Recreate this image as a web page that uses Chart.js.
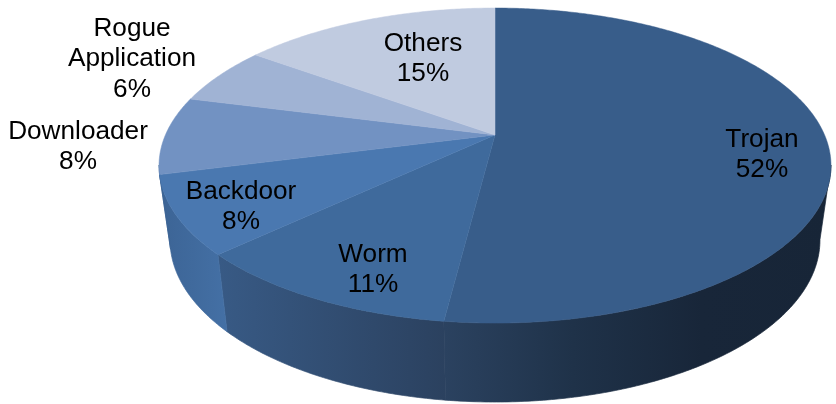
<!DOCTYPE html>
<html lang="en">
<head>
    <meta charset="UTF-8">
    <title>Malware share</title>
    <script src="https://cdnjs.cloudflare.com/ajax/libs/Chart.js/4.4.1/chart.umd.min.js"></script>
    <style>
        html, body { margin: 0; padding: 0; background: #fff; }
        canvas { display: block; }
    </style>
</head>
<body>
    <canvas id="pieChart" width="836" height="404"></canvas>

    <script>
        const categories = ['Trojan', 'Worm', 'Backdoor', 'Downloader', 'Rogue Application', 'Others'];
        const shares = [52, 11, 8, 8, 6, 15];
        const topColors = ['#385d8a', '#3f6a9c', '#4a78b0', '#7292c2', '#a0b3d4', '#c0cbe0'];

        // side wall gradient of each slice, left colour -> right colour
        const wallColors = [
            ['#2b4260', '#1f3249', '#182639', '#172537'],
            ['#385a85', '#2b415f'],
            ['#3c6495', '#4470a5'],
            ['#3c6495', '#3c6495'],
            ['#3c6495', '#3c6495'],
            ['#3c6495', '#3c6495']
        ];

        // label centre x and first line y (canvas px)
        const labelSpots = [[762, 139.5], [373, 254.5], [241, 191.5], [78, 131.5], [132, 28.5], [423, 43.5]];

        // the pie is a tilted disc, so the apex is not the middle of the ellipse
        const tilt = -0.194;
        const topFace = { x: 495, y: 135, a: 329.6, b: 151.6 };
        const bottomFace = { x: 495, y: 208.6, a: 318.8, b: 155.9 };
        const wallFrom = 101 * Math.PI / 180;
        const wallTo = 259 * Math.PI / 180;

        const project = (face, angle) => {
            const X = Math.sin(angle);
            const Y = -Math.cos(angle);
            const w = 1 + tilt * Y;
            return [face.x + face.a * X / w, face.y + face.b * Y / w];
        };

        const arcPoints = (face, from, to) => {
            const pts = [];
            const steps = Math.max(2, Math.ceil(Math.abs(to - from) / 0.01));
            for (let i = 0; i <= steps; i++) {
                pts.push(project(face, from + (to - from) * i / steps));
            }
            return pts;
        };

        const tracePoints = (ctx, pts, first) => {
            pts.forEach((p, i) => {
                if (i === 0 && first) ctx.moveTo(p[0], p[1]);
                else ctx.lineTo(p[0], p[1]);
            });
        };

        const drawWall = (ctx, from, to, stops) => {
            const start = Math.max(from, wallFrom);
            const end = Math.min(to, wallTo);
            if (end <= start) return;
            const upper = arcPoints(topFace, start, end);
            const lower = arcPoints(bottomFace, end, start);
            const xs = upper.concat(lower).map(p => p[0]);
            const grad = ctx.createLinearGradient(Math.min(...xs), 0, Math.max(...xs), 0);
            stops.forEach((c, i) => grad.addColorStop(i / (stops.length - 1), c));
            ctx.beginPath();
            tracePoints(ctx, upper, true);
            tracePoints(ctx, lower, false);
            ctx.closePath();
            ctx.fillStyle = grad;
            ctx.strokeStyle = grad;
            ctx.lineWidth = 0.7;
            ctx.fill();
            ctx.stroke();
        };

        const drawFace = (ctx, from, to, color) => {
            ctx.beginPath();
            ctx.moveTo(topFace.x, topFace.y);
            tracePoints(ctx, arcPoints(topFace, from, to), false);
            ctx.closePath();
            ctx.fillStyle = color;
            ctx.strokeStyle = color;
            ctx.lineWidth = 0.5;
            ctx.fill();
            ctx.stroke();
        };

        const pie3d = {
            id: 'pie3d',
            beforeDatasetDraw(chart) {
                const ctx = chart.ctx;
                const arcs = chart.getDatasetMeta(0).data;
                // angles come from the arc elements, 0 = straight up here
                const spans = arcs.map(a => [a.startAngle + Math.PI / 2, a.endAngle + Math.PI / 2]);
                ctx.save();
                spans.forEach((s, i) => drawWall(ctx, s[0], s[1], wallColors[i]));
                spans.forEach((s, i) => drawFace(ctx, s[0], s[1], topColors[i]));
                ctx.restore();
                return false;
            },
            afterDatasetsDraw(chart) {
                const ctx = chart.ctx;
                ctx.save();
                ctx.font = '26.2px "Liberation Sans", Arial, sans-serif';
                ctx.fillStyle = '#000';
                ctx.textAlign = 'center';
                ctx.textBaseline = 'middle';
                chart.data.labels.forEach((name, i) => {
                    const lines = name.split(' ').concat(chart.data.datasets[0].data[i] + '%');
                    lines.forEach((line, n) => {
                        ctx.fillText(line, labelSpots[i][0], labelSpots[i][1] + n * 30.7);
                    });
                });
                ctx.restore();
            }
        };

        new Chart(document.getElementById('pieChart'), {
            type: 'pie',
            data: {
                labels: categories,
                datasets: [{ data: shares, backgroundColor: topColors, borderWidth: 0 }]
            },
            options: {
                responsive: false,
                animation: false,
                plugins: { legend: { display: false }, tooltip: { enabled: false } }
            },
            plugins: [pie3d]
        });
    </script>
</body>
</html>
